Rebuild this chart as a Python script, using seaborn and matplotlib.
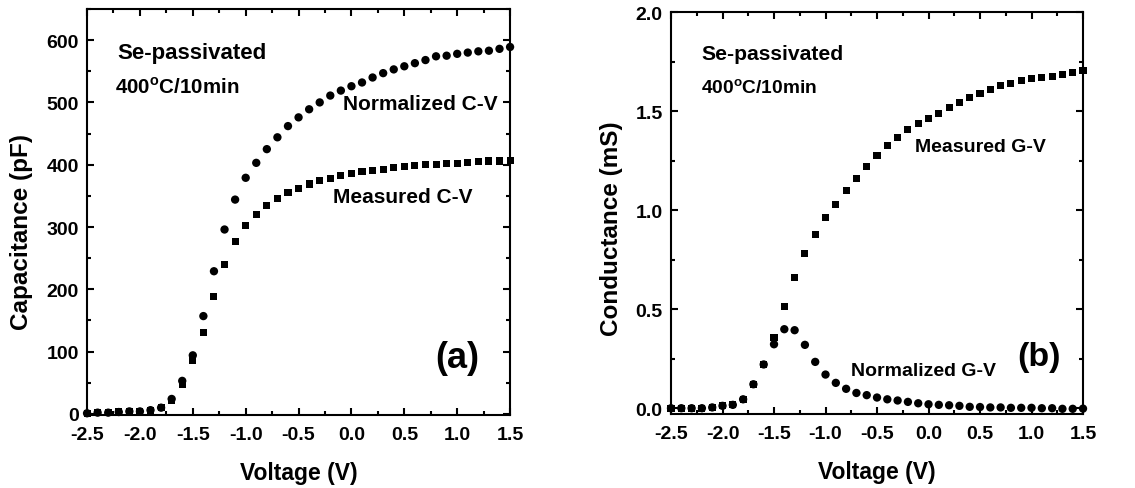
import numpy as np
import pandas as pd
import matplotlib
matplotlib.use("Agg")
import matplotlib.pyplot as plt
import seaborn as sns
from matplotlib.ticker import MultipleLocator, FormatStrFormatter

# Bias voltage, -2.5 V to 1.5 V in 0.1 V steps
voltage = np.round(np.arange(-2.5, 1.51, 0.1), 1)

# (a) capacitance, pF
cap_measured = [1, 2, 2, 3, 4, 4, 5, 10, 22, 48, 85, 131, 189, 240, 277, 303, 320, 335, 346, 355,
                362, 369, 374, 378, 382, 386, 389, 391, 393, 395, 397, 398, 400, 401, 402, 402,
                403, 405, 406, 406, 407]
cap_normalized = [1, 2, 2, 3, 4, 4, 6, 10, 24, 53, 94, 157, 229, 296, 344, 379, 403, 425, 444, 462,
                  476, 489, 500, 511, 519, 526, 532, 540, 547, 553, 558, 563, 568, 574, 575, 578,
                  580, 582, 583, 586, 589]

# (b) conductance, mS
g_measured = [0.0, 0.0, 0.0, 0.0, 0.004, 0.012, 0.017, 0.045, 0.121, 0.221, 0.357, 0.514, 0.660,
              0.781, 0.879, 0.963, 1.030, 1.098, 1.162, 1.220, 1.278, 1.325, 1.367, 1.406, 1.438,
              1.465, 1.490, 1.518, 1.544, 1.569, 1.589, 1.611, 1.628, 1.641, 1.657, 1.667, 1.672,
              1.677, 1.687, 1.694, 1.706]
g_normalized = [0.0, 0.0, 0.0, 0.0, 0.004, 0.012, 0.017, 0.045, 0.121, 0.221, 0.323, 0.399, 0.394,
                0.320, 0.234, 0.170, 0.128, 0.098, 0.077, 0.066, 0.054, 0.045, 0.039, 0.032, 0.025,
                0.020, 0.017, 0.015, 0.012, 0.007, 0.006, 0.004, 0.004, 0.002, 0.002, 0.002, 0.0,
                0.0, -0.003, -0.003, -0.002]

cv = pd.DataFrame({
    "V": np.concatenate([voltage, voltage]),
    "C": cap_measured + cap_normalized,
    "curve": ["Measured"] * len(voltage) + ["Normalized"] * len(voltage),
})
gv = pd.DataFrame({
    "V": np.concatenate([voltage, voltage]),
    "G": g_measured + g_normalized,
    "curve": ["Measured"] * len(voltage) + ["Normalized"] * len(voltage),
})

sns.set_style("ticks")
plt.rcParams["font.family"] = ["Liberation Sans", "DejaVu Sans"]
plt.rcParams["font.weight"] = "bold"
plt.rcParams["mathtext.fontset"] = "custom"
plt.rcParams["mathtext.bf"] = "Liberation Sans:bold"
plt.rcParams["mathtext.rm"] = "Liberation Sans:bold"
for key in ["text.color", "axes.labelcolor", "axes.edgecolor", "xtick.color", "ytick.color"]:
    plt.rcParams[key] = "black"

fig = plt.figure(figsize=(11.35, 4.89), dpi=100)
ax1 = fig.add_axes([0.0767, 0.149, 0.3727, 0.8306])
ax2 = fig.add_axes([0.5912, 0.151, 0.3630, 0.8221])

markers = {"Measured": "s", "Normalized": "o"}
sizes = {"Measured": 26, "Normalized": 36}

for name, m in markers.items():
    sns.scatterplot(data=cv[cv.curve == name], x="V", y="C", marker=m, s=sizes[name],
                    color="black", edgecolor="none", ax=ax1, legend=False, clip_on=False, zorder=3)
    sns.scatterplot(data=gv[gv.curve == name], x="V", y="G", marker=m, s=sizes[name],
                    color="black", edgecolor="none", ax=ax2, legend=False, clip_on=False, zorder=3)

ax1.set_xlim(-2.5, 1.5)
ax1.set_ylim(-2, 650)
ax1.yaxis.set_major_locator(MultipleLocator(100))
ax1.yaxis.set_minor_locator(MultipleLocator(50))
ax1.set_ylabel("Capacitance (pF)", fontsize=17.5, fontweight="bold")
ax1.yaxis.set_label_coords(-0.128, 0.453)

ax2.set_xlim(-2.5, 1.5)
ax2.set_ylim(-0.03, 2.0)
ax2.yaxis.set_major_locator(MultipleLocator(0.5))
ax2.yaxis.set_minor_locator(MultipleLocator(0.25))
ax2.yaxis.set_major_formatter(FormatStrFormatter("%.1f"))
ax2.set_ylabel("Conductance (mS)", fontsize=17.5, fontweight="bold")
ax2.yaxis.set_label_coords(-0.117, 0.463)

for ax in (ax1, ax2):
    ax.xaxis.set_major_locator(MultipleLocator(0.5))
    ax.xaxis.set_minor_locator(MultipleLocator(0.25))
    ax.xaxis.set_major_formatter(FormatStrFormatter("%.1f"))
    ax.set_xlabel("Voltage (V)", fontsize=16.5, fontweight="bold", labelpad=13)
    ax.tick_params(which="both", direction="in", top=True, right=True, width=1.5,
                   labelsize=14, pad=6, colors="black")
    ax.tick_params(axis="x", which="major", pad=8)
    ax.tick_params(which="major", length=5)
    ax.tick_params(which="minor", length=3)
    for lab in ax.get_xticklabels() + ax.get_yticklabels():
        lab.set_fontweight("bold")
    for sp in ax.spines.values():
        sp.set_linewidth(1.5)
        sp.set_color("black")
        sp.set_visible(True)

# annotations (a)
ax1.text(0.071, 0.892, "Se-passivated", transform=ax1.transAxes, fontsize=16,
         fontweight="bold", va="center")
ax1.text(0.066, 0.81, r"400$^{\mathbf{o}}$C/10min", transform=ax1.transAxes, fontsize=14.8,
         fontweight="bold", va="center")
ax1.text(0.605, 0.768, "Normalized C-V", transform=ax1.transAxes, fontsize=15,
         fontweight="bold", va="center")
ax1.text(0.582, 0.539, "Measured C-V", transform=ax1.transAxes, fontsize=15,
         fontweight="bold", va="center")
ax1.text(0.823, 0.143, "(a)", transform=ax1.transAxes, fontsize=26,
         fontweight="bold", va="center")

# annotations (b)
ax2.text(0.075, 0.896, "Se-passivated", transform=ax2.transAxes, fontsize=15.2,
         fontweight="bold", va="center")
ax2.text(0.073, 0.811, r"400$^{\mathbf{o}}$C/10min", transform=ax2.transAxes, fontsize=13.8,
         fontweight="bold", va="center")
ax2.text(0.592, 0.667, "Measured G-V", transform=ax2.transAxes, fontsize=14,
         fontweight="bold", va="center")
ax2.text(0.437, 0.109, "Normalized G-V", transform=ax2.transAxes, fontsize=14,
         fontweight="bold", va="center")
ax2.text(0.84, 0.144, "(b)", transform=ax2.transAxes, fontsize=24.5,
         fontweight="bold", va="center")

fig.savefig("out.png", dpi=100)
plt.close(fig)
